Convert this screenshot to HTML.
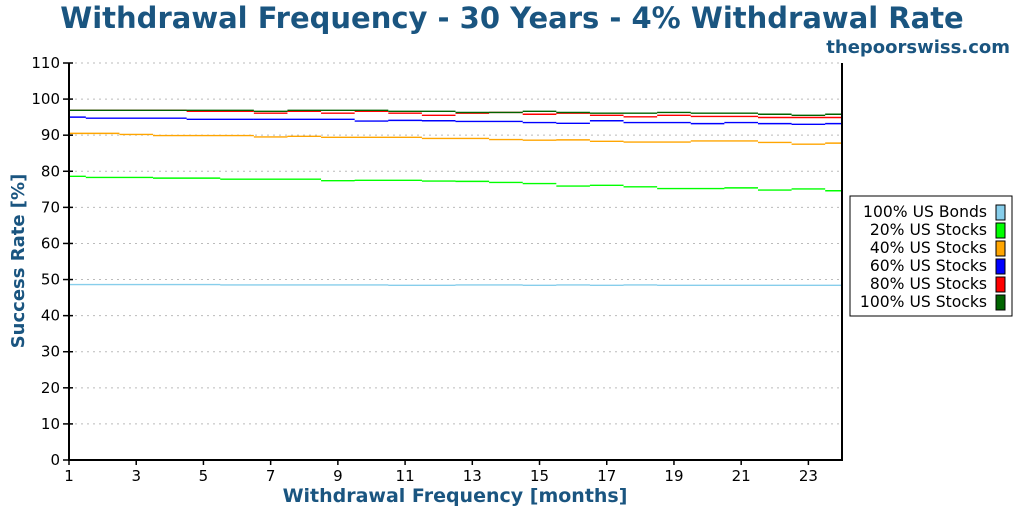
<!DOCTYPE html>
<html><head><meta charset="utf-8"><style>
body{margin:0;background:#fff;}
svg{display:block;font-family:"DejaVu Sans","Liberation Sans",sans-serif;}
</style></head><body>
<svg id="c" width="1024" height="512">
<text x="512" y="28" text-anchor="middle" font-size="29" font-weight="bold" fill="#1a5580">Withdrawal Frequency - 30 Years - 4% Withdrawal Rate</text>
<text x="1010" y="53" text-anchor="end" font-size="18" font-weight="bold" fill="#1a5580">thepoorswiss.com</text>
<text x="455" y="502" text-anchor="middle" font-size="19" font-weight="bold" fill="#1a5580">Withdrawal Frequency [months]</text>
<text transform="translate(24,261) rotate(-90)" text-anchor="middle" font-size="18" font-weight="bold" fill="#1a5580">Success Rate [%]</text>
<g id="grid"></g><g id="series"></g><g id="axes"></g>
<g>
<rect x="850" y="196" width="162" height="120" fill="#fff" stroke="#000" stroke-width="1"/>
<g id="legend"></g></g>
</svg>
<script>
const months=[1,2,3,4,5,6,7,8,9,10,11,12,13,14,15,16,17,18,19,20,21,22,23,24];
const bonds=[48.6,48.6,48.6,48.6,48.6,48.5,48.5,48.5,48.5,48.5,48.4,48.4,48.5,48.5,48.4,48.5,48.4,48.5,48.4,48.4,48.4,48.4,48.4,48.4];
const s20=[78.6,78.3,78.3,78.1,78.1,77.8,77.8,77.8,77.4,77.5,77.5,77.3,77.2,76.9,76.6,75.9,76.1,75.7,75.2,75.2,75.4,74.8,75.1,74.6];
const s40=[90.5,90.5,90.2,89.9,89.9,89.9,89.5,89.7,89.4,89.4,89.4,89.1,89.1,88.8,88.6,88.7,88.3,88.1,88.1,88.4,88.4,88.0,87.5,87.8];
const s60=[95.0,94.7,94.7,94.7,94.4,94.4,94.4,94.4,94.4,93.9,94.1,94.0,93.8,93.8,93.5,93.3,94.0,93.5,93.5,93.2,93.5,93.2,93.0,93.2];
const s80=[96.9,96.9,96.9,96.9,96.6,96.6,96.1,96.6,96.1,96.6,96.1,95.5,96.1,96.3,95.8,96.1,95.5,95.1,95.5,95.2,95.2,94.9,94.9,94.9];
const s100=[96.9,96.9,96.9,96.9,96.9,96.9,96.6,96.9,96.9,96.9,96.6,96.6,96.3,96.3,96.6,96.3,96.1,96.1,96.3,96.1,96.1,95.8,95.5,95.8];
const yTicks=[0,10,20,30,40,50,60,70,80,90,100,110];
const xTicks=[1,3,5,7,9,11,13,15,17,19,21,23];
const names=["100% US Bonds","20% US Stocks","40% US Stocks","60% US Stocks","80% US Stocks","100% US Stocks"];
const colors=["#87ceeb","#00ff00","#ffa500","#0000ff","#ff0000","#006400"];
const X0=69,X1=842,Y0=460,Y1=63;
const xs=v=>X0+(v-1)/(24-1)*(X1-X0);
const ys=v=>Y0-v/110*(Y0-Y1);
const NS="http://www.w3.org/2000/svg";
function mk(t,a,p){const e=document.createElementNS(NS,t);for(const k in a)e.setAttribute(k,a[k]);p.appendChild(e);return e;}
const grid=document.getElementById('grid'),axes=document.getElementById('axes'),ser=document.getElementById('series'),leg=document.getElementById('legend');
yTicks.forEach(t=>{
 if(t>0){const g=mk('line',{x1:X0,x2:X1,y1:ys(t),y2:ys(t),stroke:'#bbb','stroke-dasharray':'2,4'},grid);
 
 }
 const tk=mk('line',{x1:X0-6,x2:X0+4,y1:ys(t),y2:ys(t),stroke:'#000','stroke-width':1.5},axes);
 
 
 const l=mk('text',{x:X0-9,y:ys(t)+5,'text-anchor':'end','font-size':15},axes);l.textContent=t;
 
 
});
xTicks.forEach(t=>{
 const tk=mk('line',{x1:xs(t),x2:xs(t),y1:Y0,y2:Y0+5,stroke:'#000','stroke-width':1.5},axes);
 
 
 const l=mk('text',{x:xs(t),y:Y0+21,'text-anchor':'middle','font-size':15},axes);l.textContent=t;
 
 
});
const ax=mk('path',{d:`M${X0},${Y1}V${Y0}H${X1}V${Y1}`,fill:'none',stroke:'#000','stroke-width':2},axes);


[bonds,s20,s40,s60,s80,s100].forEach((arr,si)=>{
 let d='';
 arr.forEach((v,i)=>{const a=Math.max(1,months[i]-0.5),b=Math.min(24,months[i]+0.5);d+=`M${xs(a)},${ys(v)}H${xs(b)}`;});
 const p=mk('path',{d:d,stroke:colors[si],'stroke-width':1.4,fill:'none'},ser);
 
 
 const y=212+si*18;
 const t=mk('text',{x:987,y:y+5,'text-anchor':'end','font-size':15.6},leg);t.textContent=names[si];
 
 
 const r=mk('rect',{x:996,y:y-7,width:9,height:15,fill:colors[si],stroke:'#000','stroke-width':1},leg);
 
 
});
</script>
</body></html>
